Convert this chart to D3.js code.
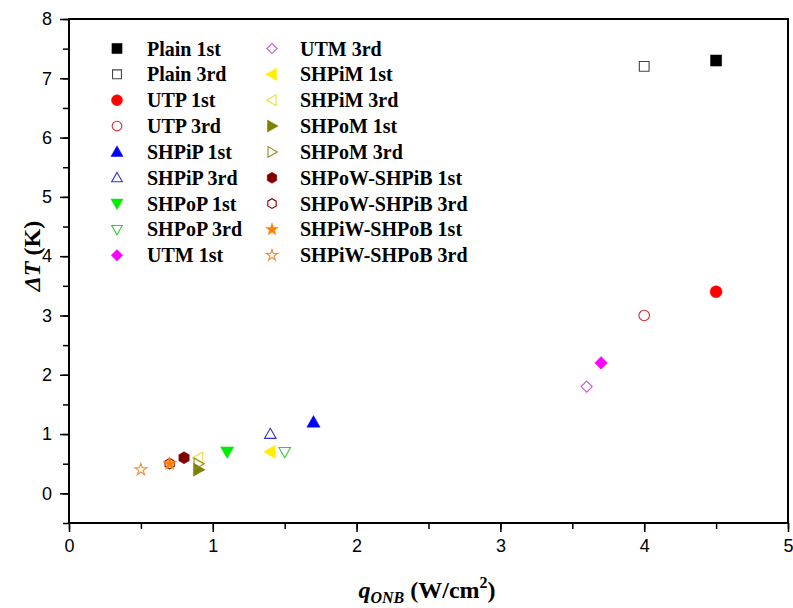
<!DOCTYPE html>
<html><head><meta charset="utf-8">
<script src="https://cdn.jsdelivr.net/npm/d3@7"></script>
<style>body{margin:0;background:#fff}</style>
</head><body><svg id="c" width="793" height="608"></svg>
<script>
// ---- data ----
const seriesNames = ["Plain 1st","Plain 3rd","UTP 1st","UTP 3rd","SHPiP 1st","SHPiP 3rd","SHPoP 1st","SHPoP 3rd","UTM 1st",
  "UTM 3rd","SHPiM 1st","SHPiM 3rd","SHPoM 1st","SHPoM 3rd","SHPoW-SHPiB 1st","SHPoW-SHPiB 3rd","SHPiW-SHPoB 1st","SHPiW-SHPoB 3rd"];
const qONB = [4.5, 4.0, 4.5, 4.0, 1.7, 1.4, 1.1, 1.5, 3.7, 3.6, 1.4, 0.9, 0.9, 0.9, 0.8, 0.7, 0.7, 0.5];
const deltaT = [7.3, 7.2, 3.4, 3.0, 1.2, 1.0, 0.7, 0.7, 2.2, 1.8, 0.7, 0.6, 0.4, 0.5, 0.6, 0.5, 0.5, 0.4];
const xTicks = [0,1,2,3,4,5];
const yTicks = [0,1,2,3,4,5,6,7,8];

// ---- styles ----
const shapes = ["square","square","circle","circle","up","up","down","down","diamond","diamond","left","left","right","right","hex","hex","star","star"];
const filled = [true,false,true,false,true,false,true,false,true,false,true,false,true,false,true,false,true,false];
const colors = ["#000000","#444444","#ff0000","#d03030","#0000ff","#3333cc","#00ee00","#33cc33","#ff00ff","#cc55dd","#ffee00","#eedd33","#808000","#909020","#800000","#800000","#ff8000","#f09030"];

const svg = d3.select("#c");
const m = {l:69, r:788, t:19, b:523};
const x = d3.scaleLinear().domain([0,5]).range([m.l, m.r]);
const y = d3.scaleLinear().domain([-0.5,8]).range([m.b, m.t]);

function shapePath(s, size) {
  const r = size/2;
  if (s === "square") return d3.symbol(d3.symbolSquare, size*size*0.85)();
  if (s === "circle") return d3.symbol(d3.symbolCircle, Math.PI*r*r)();
  if (s === "diamond") { const a=r*1.05; return `M0,${-a}L${a},0L0,${a}L${-a},0Z`; }
  if (s === "star") return d3.symbol(d3.symbolStar, size*size*0.4)();
  if (s === "hex") {
    const pts = d3.range(6).map(i => { const ang = Math.PI/6 + i*Math.PI/3; return [r*Math.cos(ang), r*Math.sin(ang)]; });
    return "M" + pts.map(p => p.join(",")).join("L") + "Z";
  }
  const h = r*1.1, w = r*1.1;
  if (s === "up") return `M0,${-h}L${w},${h*0.75}L${-w},${h*0.75}Z`;
  if (s === "down") return `M0,${h}L${w},${-h*0.75}L${-w},${-h*0.75}Z`;
  if (s === "left") return `M${-h},0L${h*0.75},${-w}L${h*0.75},${w}Z`;
  if (s === "right") return `M${h},0L${-h*0.75},${-w}L${-h*0.75},${w}Z`;
}

function drawMarker(g, i, size) {
  const sz = filled[i] ? size : size*0.88;
  g.append("path").attr("d", shapePath(shapes[i], sz))
    .attr("fill", filled[i] ? colors[i] : "none")
    .attr("stroke", colors[i]).attr("stroke-width", filled[i] ? 0.5 : 1.1);
}

// axes frame
svg.append("rect").attr("x", m.l).attr("y", m.t).attr("width", m.r-m.l).attr("height", m.b-m.t)
  .attr("fill","none").attr("stroke","#000").attr("stroke-width",2);

// x axis
const xa = svg.append("g").attr("transform",`translate(0,${m.b})`);
xa.call(d3.axisBottom(x).tickValues(d3.range(0,5.01,0.5)).tickSize(6).tickFormat(""))
  .call(g => g.select(".domain").remove())
  .selectAll("line").attr("stroke-width",1.5);
xa.append("g").call(d3.axisBottom(x).tickValues(xTicks).tickSize(9).tickFormat(d3.format("d")))
  .call(g => g.select(".domain").remove())
  .call(g => g.selectAll("line").attr("stroke-width",1.5))
  .call(g => g.selectAll("text").attr("font-family","Liberation Sans, Arial").attr("font-size",18).attr("fill","#000").attr("dy","0.95em"));

// y axis
const ya = svg.append("g").attr("transform",`translate(${m.l},0)`);
ya.call(d3.axisLeft(y).tickValues(d3.range(-0.5,8.01,0.5)).tickSize(6).tickFormat(""))
  .call(g => g.select(".domain").remove())
  .selectAll("line").attr("stroke-width",1.5);
ya.append("g").call(d3.axisLeft(y).tickValues(yTicks).tickSize(9).tickFormat(d3.format("d")))
  .call(g => g.select(".domain").remove())
  .call(g => g.selectAll("line").attr("stroke-width",1.5))
  .call(g => g.selectAll("text").attr("font-family","Liberation Sans, Arial").attr("font-size",18).attr("fill","#000").attr("x",-17));

// points
const pts = svg.append("g");
seriesNames.forEach((n,i) => {
  const g = pts.append("g").attr("transform",`translate(${x(qONB[i])},${y(deltaT[i])})`);
  drawMarker(g, i, 12);
});

// legend
const leg = svg.append("g");
seriesNames.forEach((n,i) => {
  const col = i < 9 ? 0 : 1, row = i % 9;
  const sx = col === 0 ? 117 : 272, tx = col === 0 ? 147 : 300;
  const yy = 48.5 + row*25.85;
  drawMarker(leg.append("g").attr("transform",`translate(${sx},${yy})`), i, 11);
  leg.append("text").attr("x",tx).attr("y",yy).attr("dy","0.35em")
    .attr("font-family","Liberation Serif, Times New Roman").attr("font-weight","bold").attr("font-size",20).text(n);
});

// axis titles
const xt = svg.append("text").attr("x",427).attr("y",598).attr("text-anchor","middle")
  .attr("font-family","Liberation Serif, Times New Roman").attr("font-weight","bold").attr("font-size",24);
xt.append("tspan").attr("font-style","italic").text("q");
xt.append("tspan").attr("font-style","italic").attr("font-size",16).attr("dy",5).text("ONB");
xt.append("tspan").attr("dy",-5).text(" (W/cm");
xt.append("tspan").attr("font-size",16).attr("dy",-10).text("2");
xt.append("tspan").attr("dy",10).text(")");

const yt = svg.append("text").attr("transform","translate(40,256) rotate(-90)").attr("text-anchor","middle")
  .attr("font-family","Liberation Serif, Times New Roman").attr("font-weight","bold").attr("font-size",24);
yt.append("tspan").attr("font-style","italic").text("ΔT");
yt.append("tspan").text(" (K)");
</script></body></html>
